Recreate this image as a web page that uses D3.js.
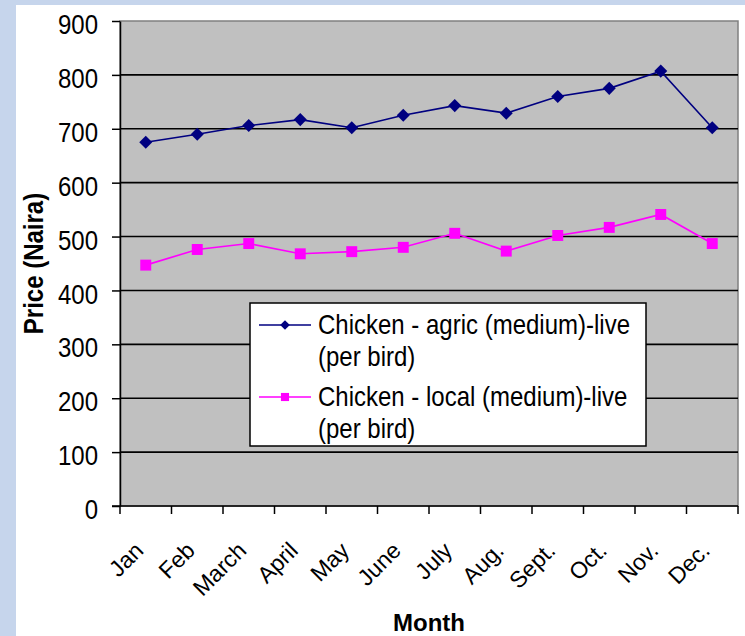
<!DOCTYPE html>
<html>
<head>
<meta charset="utf-8">
<script src="https://cdn.jsdelivr.net/npm/d3@7"></script>
<style>
  body { margin: 0; background: #c6d5ec; }
  svg { display: block; }
  .axis path, .axis line { stroke: #000; stroke-width: 1.5; }
</style>
</head>
<body>
<script>
var months = ["Jan", "Feb", "March", "April", "May", "June", "July", "Aug.", "Sept.", "Oct.", "Nov.", "Dec."];
var agric = [675, 690, 706, 717, 702, 725, 743, 729, 760, 775, 807, 702];
var local = [447, 476, 487, 468, 472, 480, 506, 473, 502, 517, 541, 487];
var yTicks = [0, 100, 200, 300, 400, 500, 600, 700, 800, 900];
var seriesNames = ["Chicken - agric (medium)-live", "Chicken - local (medium)-live"];

var W = 745, H = 636;
var margin = {top: 21, right: 7, bottom: 130, left: 120},
	width = W - margin.left - margin.right,
	height = H - margin.top - margin.bottom;

var svg = d3.select("body").append("svg")
	.attr("width", W)
	.attr("height", H);

// white panel over the blue frame
svg.append("rect")
	.attr("x", 16).attr("y", 5)
	.attr("width", W - 16).attr("height", H - 5)
	.attr("fill", "#fff");

var main = svg.append("g")
	.attr("transform", "translate(" + margin.left + "," + margin.top + ")");

var x = d3.scaleBand().domain(months).range([0, width]);
var y = d3.scaleLinear().domain([0, 900]).range([height, 0]);

// plot background
main.append("rect")
	.attr("width", width).attr("height", height)
	.attr("fill", "#c0c0c0")
	.attr("stroke", "#808080")
	.attr("stroke-width", 1.5);

// gridlines
main.selectAll(".grid")
	.data(yTicks.slice(1, -1))
	.enter().append("line")
	.attr("x1", 0).attr("x2", width)
	.attr("y1", function(d) { return y(d); })
	.attr("y2", function(d) { return y(d); })
	.attr("stroke", "#000")
	.attr("stroke-width", 1.6);

// y axis
var yAxis = d3.axisLeft(y).tickValues(yTicks).tickSize(8).tickPadding(14).tickSizeOuter(0);
var gy = main.append("g").attr("class", "axis").call(yAxis);
gy.selectAll("text")
	.attr("font-family", "Liberation Sans, Arial, sans-serif")
	.attr("font-size", 24)
	.attr("fill", "#000")
	.attr("dy", "0.45em")
	.attr("transform", "scale(1,1.17)");

// x axis: ticks at band edges
var xAxis = d3.axisBottom(x).tickSize(0).tickFormat("");
var gx = main.append("g").attr("class", "axis")
	.attr("transform", "translate(0," + height + ")")
	.call(xAxis);
gx.selectAll(".edge")
	.data(months.map(function(m) { return x(m); }).concat([width]))
	.enter().append("line")
	.attr("x1", function(d) { return d; }).attr("x2", function(d) { return d; })
	.attr("y1", 0).attr("y2", 8)
	.attr("stroke", "#000").attr("stroke-width", 1.5);
gx.select(".domain").attr("d", "M-8,0H" + width);

gx.selectAll(".mlabel")
	.data(months)
	.enter().append("text")
	.attr("transform", function(d) { return "translate(" + (x(d) + x.bandwidth() / 2 - 1) + ",46) rotate(-45)"; })
	.attr("text-anchor", "end")
	.attr("font-family", "Liberation Sans, Arial, sans-serif")
	.attr("font-size", 23)
	.attr("fill", "#000")
	.text(function(d) { return d; });

// axis titles
svg.append("text")
	.attr("x", margin.left + width / 2)
	.attr("y", 631)
	.attr("text-anchor", "middle")
	.attr("font-family", "Liberation Sans, Arial, sans-serif")
	.attr("font-weight", "bold")
	.attr("font-size", 24)
	.text("Month");

svg.append("text")
	.attr("text-anchor", "middle")
	.attr("font-family", "Liberation Sans, Arial, sans-serif")
	.attr("font-weight", "bold")
	.attr("font-size", 24)
	.attr("transform", "translate(43," + (margin.top + height / 2) + ") rotate(-90) scale(1,1.12)")
	.text("Price (Naira)");

// series (agric marker is a square turned 45 degrees)
var series = [
	{name: seriesNames[0], values: agric, color: "#000080", symbol: d3.symbolSquare, size: 85, rot: 45},
	{name: seriesNames[1], values: local, color: "#ff00ff", symbol: d3.symbolSquare, size: 120, rot: 0}
];

var line = d3.line()
	.x(function(d, i) { return x(months[i]) + x.bandwidth() / 2; })
	.y(function(d) { return y(d); });

series.forEach(function(s) {
	main.append("path")
		.attr("d", line(s.values))
		.attr("fill", "none")
		.attr("stroke", s.color)
		.attr("stroke-width", 1.6);
	main.selectAll(null)
		.data(s.values)
		.enter().append("path")
		.attr("transform", function(d, i) { return "translate(" + (x(months[i]) + x.bandwidth() / 2) + "," + y(d) + ") rotate(" + s.rot + ")"; })
		.attr("d", d3.symbol().type(s.symbol).size(s.size))
		.attr("fill", s.color);
});

// legend
var legend = svg.append("g").attr("transform", "translate(250,303)");
legend.append("rect")
	.attr("width", 396).attr("height", 143)
	.attr("fill", "#fff")
	.attr("stroke", "#000")
	.attr("stroke-width", 1.5);

var item = legend.selectAll(".legend")
	.data(series)
	.enter().append("g")
	.attr("transform", function(d, i) { return "translate(0," + (i * 72) + ")"; });

item.append("line")
	.attr("x1", 9).attr("x2", 61)
	.attr("y1", 22).attr("y2", 22)
	.attr("stroke", function(d) { return d.color; })
	.attr("stroke-width", 1.6);
item.append("path")
	.attr("transform", function(d) { return "translate(35,22) rotate(" + d.rot + ")"; })
	.attr("d", function(d) { return d3.symbol().type(d.symbol).size(d.size * 0.55)(); })
	.attr("fill", function(d) { return d.color; });

item.append("text")
	.attr("transform", "translate(68,31) scale(1,1.15)")
	.attr("font-family", "Liberation Sans, Arial, sans-serif")
	.attr("font-size", 24)
	.text(function(d) { return d.name; });
item.append("text")
	.attr("transform", "translate(68,63) scale(1,1.15)")
	.attr("font-family", "Liberation Sans, Arial, sans-serif")
	.attr("font-size", 24)
	.text("(per bird)");
</script>
</body>
</html>
